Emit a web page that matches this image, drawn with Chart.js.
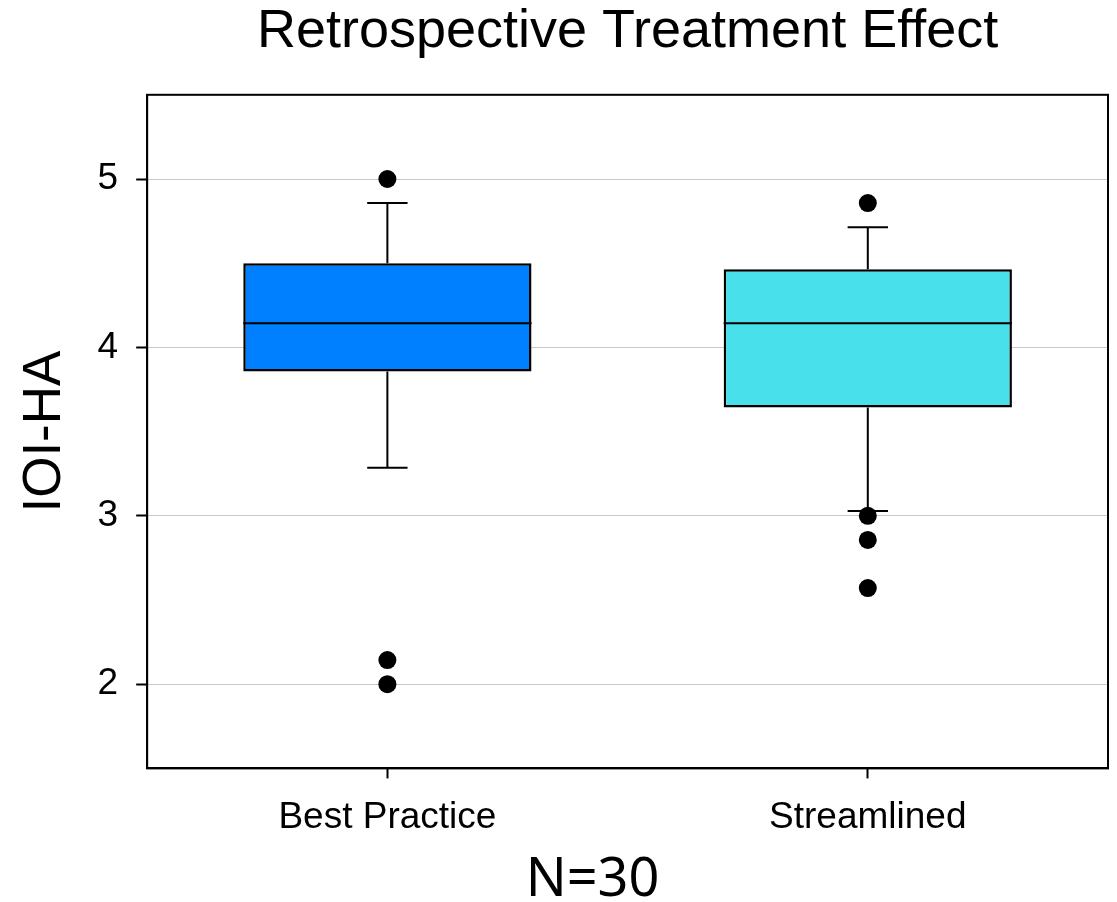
<!DOCTYPE html>
<html>
<head>
<meta charset="utf-8">
<title>Retrospective Treatment Effect</title>
<script src="https://cdn.jsdelivr.net/npm/chart.js@4.4.1/dist/chart.umd.min.js"></script>
<style>
    html, body { margin: 0; padding: 0; background: #ffffff; }
    #chart { display: block; }
</style>
</head>
<body>
<canvas id="chart" width="1117" height="902"></canvas>
<script>
// Box plot summaries per group (IOI-HA score)
const categories = ['Best Practice', 'Streamlined'];
const q1 = [3.857, 3.643];
const median = [4.143, 4.143];
const q3 = [4.5, 4.464];
const whiskerLow = [3.286, 3.029];
const whiskerHigh = [4.857, 4.714];
const outliers = [
    [5.0, 2.143, 2.0],
    [4.857, 3.0, 2.857, 2.571]
];
const yTicks = [2, 3, 4, 5];
const boxColors = ['#0080ff', '#48e0ea'];

const FONT = "'Liberation Sans', Arial, sans-serif";

// Floating bars give the boxes, points give the outliers
const boxData = categories.map((c, i) => [q1[i], q3[i]]);
const outlierData = [];
outliers.forEach((list, i) => {
    list.forEach(v => outlierData.push({ x: categories[i], y: v }));
});

// Draws the median line and the whiskers on top of the boxes
const boxWhiskers = {
    id: 'boxWhiskers',
    afterDatasetDraw(chart, args) {
        if (args.index !== 0) return;
        const ctx = chart.ctx;
        const x = chart.scales.x;
        const y = chart.scales.y;
        const meta = chart.getDatasetMeta(0);
        ctx.save();
        ctx.strokeStyle = '#000000';
        ctx.lineWidth = 2;
        meta.data.forEach((bar, i) => {
            const cx = x.getPixelForValue(i);
            const half = bar.width / 2;
            const cap = bar.width * 0.07;
            const yMed = y.getPixelForValue(median[i]);
            const yQ1 = y.getPixelForValue(q1[i]);
            const yQ3 = y.getPixelForValue(q3[i]);
            const yLo = y.getPixelForValue(whiskerLow[i]);
            const yHi = y.getPixelForValue(whiskerHigh[i]);
            ctx.beginPath();
            ctx.moveTo(cx - half, yMed);
            ctx.lineTo(cx + half, yMed);
            // whiskers
            ctx.moveTo(cx, yQ3);
            ctx.lineTo(cx, yHi);
            ctx.moveTo(cx - cap, yHi);
            ctx.lineTo(cx + cap, yHi);
            ctx.moveTo(cx, yQ1);
            ctx.lineTo(cx, yLo);
            ctx.moveTo(cx - cap, yLo);
            ctx.lineTo(cx + cap, yLo);
            ctx.stroke();
        });
        ctx.restore();
    }
};

// Closed frame around the plot area
const plotFrame = {
    id: 'plotFrame',
    afterDraw(chart) {
        const { ctx, chartArea } = chart;
        ctx.save();
        ctx.strokeStyle = '#000000';
        ctx.lineWidth = 2;
        ctx.strokeRect(chartArea.left, chartArea.top,
            chartArea.right - chartArea.left, chartArea.bottom - chartArea.top);
        ctx.restore();
    }
};

const ctx = document.getElementById('chart').getContext('2d');
new Chart(ctx, {
    type: 'bar',
    data: {
        labels: categories,
        datasets: [
            {
                label: 'IQR',
                data: boxData,
                backgroundColor: boxColors,
                borderColor: '#000000',
                borderWidth: 2.5,
                borderSkipped: false,
                barPercentage: 0.6,
                categoryPercentage: 1.0,
                order: 1
            },
            {
                type: 'line',
                label: 'Outliers',
                data: outlierData,
                showLine: false,
                pointRadius: 9,
                pointHoverRadius: 9,
                pointBackgroundColor: '#000000',
                pointBorderWidth: 0,
                order: 0
            }
        ]
    },
    options: {
        responsive: false,
        animation: false,
        layout: {
            padding: { top: 0, right: 9, bottom: 0, left: 0 }
        },
        plugins: {
            legend: { display: false },
            tooltip: { enabled: false },
            title: {
                display: true,
                fullSize: false,
                text: 'Retrospective Treatment Effect',
                color: '#000000',
                font: { family: FONT, size: 54, weight: 'normal', lineHeight: 1.2 },
                padding: { top: 0, bottom: 30 }
            }
        },
        scales: {
            x: {
                offset: true,
                grid: {
                    offset: false,
                    drawOnChartArea: false,
                    tickColor: '#000000',
                    tickLength: 10,
                    tickWidth: 2
                },
                border: { color: '#000000', width: 2 },
                ticks: {
                    color: '#000000',
                    padding: 17,
                    font: { family: FONT, size: 37 }
                },
                title: {
                    display: true,
                    // trailing spaces keep the label a bit left of centre
                    text: 'N=30     ',
                    color: '#000000',
                    font: { family: "'Noto Sans', sans-serif", size: 54, lineHeight: 0.8 },
                    padding: { top: 2, bottom: 0 }
                }
            },
            y: {
                min: 1.5,
                max: 5.5,
                afterBuildTicks(scale) {
                    scale.ticks = yTicks.map(v => ({ value: v }));
                },
                grid: {
                    color: '#c8c8c8',
                    lineWidth: 1,
                    tickColor: '#000000',
                    tickLength: 11,
                    tickWidth: 2
                },
                border: { color: '#000000', width: 2 },
                ticks: {
                    color: '#000000',
                    padding: 18,
                    font: { family: FONT, size: 37 }
                },
                title: {
                    display: true,
                    text: 'IOI-HA',
                    color: '#000000',
                    font: { family: FONT, size: 53, lineHeight: 1.2 },
                    padding: { top: 14, bottom: 2 }
                }
            }
        }
    },
    plugins: [boxWhiskers, plotFrame]
});
</script>
</body>
</html>
